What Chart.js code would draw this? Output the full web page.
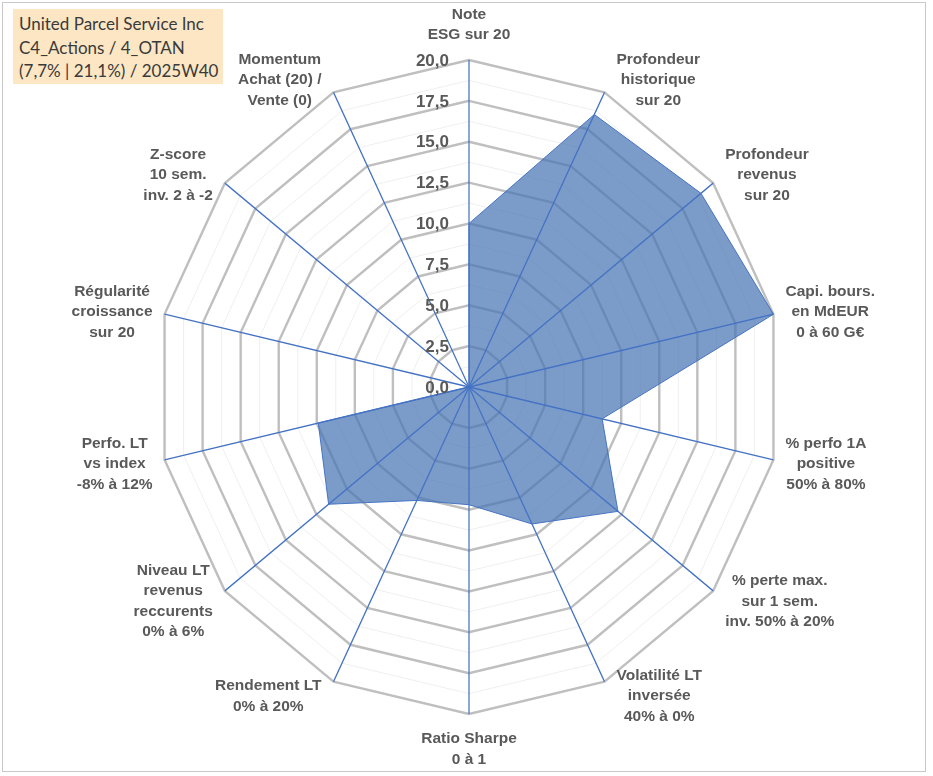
<!DOCTYPE html>
<html lang="fr">
<head>
<meta charset="utf-8">
<title>United Parcel Service Inc - radar</title>
<script src="https://cdn.jsdelivr.net/npm/chart.js@4.4.1/dist/chart.umd.min.js"></script>
<style>
  html, body { margin: 0; padding: 0; background: #fff; }
  #wrap { position: relative; width: 933px; height: 776px; }
  #frame { position: absolute; left: 2px; top: 2px; width: 922px; height: 768px; border: 1px solid #c8c8c8; pointer-events: none; }
  #title { position: absolute; left: 13px; top: 9px; width: 210px; height: 75px; background: #fce6c4;
           color: #3a3a3a; font: 17px Lato, sans-serif; line-height: 23.5px; padding: 3px 0 0 6px; box-sizing: border-box; white-space: nowrap; }
</style>
</head>
<body>
<div id="wrap">
  <canvas id="radar"></canvas>
  <div id="frame"></div>
  <div id="title">United Parcel Service Inc<br>C4_Actions / 4_OTAN<br>(7,7% | 21,1%) / 2025W40</div>
</div>
<script>
// données
const categories = [
  ['Note', 'ESG sur 20'],
  ['Profondeur', 'historique', 'sur 20'],
  ['Profondeur', 'revenus', 'sur 20'],
  ['Capi. bours.', 'en MdEUR', '0 à 60 G€'],
  ['% perfo 1A', 'positive', '50% à 80%'],
  ['% perte max.', 'sur 1 sem.', 'inv. 50% à 20%'],
  ['Volatilité LT', 'inversée', '40% à 0%'],
  ['Ratio Sharpe', '0 à 1'],
  ['Rendement LT', '0% à 20%'],
  ['Niveau LT', 'revenus', 'reccurents', '0% à 6%'],
  ['Perfo. LT', 'vs index', '-8% à 12%'],
  ['Régularité', 'croissance', 'sur 20'],
  ['Z-score', '10 sem.', 'inv. 2 à -2'],
  ['Momentum', 'Achat (20) /', 'Vente (0)']
];
const scores = [10.0, 18.5, 19.0, 20.0, 8.75, 12.2, 9.3, 7.2, 7.7, 11.5, 9.9, 0, 0, 0];
const tickValues = [0, 2.5, 5, 7.5, 10, 12.5, 15, 17.5, 20];
const tickLabels = ['0,0', '2,5', '5,0', '7,5', '10,0', '12,5', '15,0', '17,5', '20,0'];

const SX = 0.955; // le graphique est un peu plus étroit que haut
const GREY = '#595959';

function isMajor(v) {
  return Math.abs(v / 2.5 - Math.round(v / 2.5)) < 1e-6;
}

const radarDeco = {
  id: 'radarDeco',
  beforeDraw(chart) {
    const s = chart.scales.r, ctx = chart.ctx;
    ctx.save();
    ctx.translate(s.xCenter, 0);
    ctx.scale(SX, 1);
    ctx.translate(-s.xCenter, 0);
  },
  afterDatasetsDraw(chart) {
    // axes bleus par-dessus la surface
    const s = chart.scales.r, ctx = chart.ctx;
    ctx.save();
    ctx.strokeStyle = '#4472C4';
    ctx.lineWidth = 1.3;
    for (let i = 0; i < categories.length; i++) {
      const p = s.getPointPosition(i, s.drawingArea);
      ctx.beginPath();
      ctx.moveTo(s.xCenter, s.yCenter);
      ctx.lineTo(p.x, p.y);
      ctx.stroke();
    }
    ctx.restore();
  },
  afterDraw(chart) {
    const s = chart.scales.r, ctx = chart.ctx;
    ctx.restore();
    const cx = s.xCenter, cy = s.yCenter;

    // graduations
    ctx.save();
    ctx.fillStyle = GREY;
    ctx.font = 'bold 17px "Liberation Sans", Arial, sans-serif';
    ctx.textAlign = 'right';
    ctx.textBaseline = 'middle';
    tickValues.forEach((v, k) => {
      const y = cy - s.getDistanceFromCenterForValue(v);
      ctx.fillText(tickLabels[k], cx - 20, y + 1);
    });

    // libellés des axes
    ctx.font = 'bold 15.5px "Liberation Sans", Arial, sans-serif';
    ctx.textAlign = 'center';
    const lh = 20.5, gap = 12;
    categories.forEach((lines, i) => {
      const p = s.getPointPosition(i, s.drawingArea);
      const X = cx + (p.x - cx) * SX, Y = p.y;
      const a = s.getIndexAngle(i);
      const sin = Math.sin(a), cos = Math.cos(a);
      const n = lines.length;
      let x, y0;
      if (Math.abs(sin) < 0.01) {
        x = X;
        y0 = cos > 0 ? Y - 26 - lh * (n - 1) : Y + 24;
      } else {
        const w = Math.max(...lines.map(t => ctx.measureText(t).width));
        x = sin > 0 ? X + gap + w / 2 : X - gap - w / 2;
        y0 = Y - cos * 15 - lh * (n - 1) / 2;
      }
      lines.forEach((t, j) => ctx.fillText(t, x, y0 + j * lh + 1));
    });
    ctx.restore();
  }
};

new Chart(document.getElementById('radar'), {
  type: 'radar',
  data: {
    labels: categories,
    datasets: [{
      data: scores,
      backgroundColor: 'rgba(72,117,180,0.72)',
      borderColor: '#4472C4',
      borderWidth: 1,
      pointRadius: 0,
      pointHoverRadius: 0
    }]
  },
  options: {
    responsive: true,
    maintainAspectRatio: false,
    animation: false,
    events: [],
    layout: { padding: { top: 60, bottom: 62, left: 142.5, right: 136.5 } },
    plugins: { legend: { display: false }, tooltip: { enabled: false } },
    scales: {
      r: {
        min: 0,
        max: 20,
        ticks: { display: false, stepSize: 1.25 },
        pointLabels: { display: false },
        angleLines: { display: false },
        grid: {
          color: c => isMajor(c.tick.value) ? '#bfbfbf' : '#efefef',
          lineWidth: c => isMajor(c.tick.value) ? 2.5 : 1
        }
      }
    }
  },
  plugins: [radarDeco]
});
</script>
</body>
</html>
